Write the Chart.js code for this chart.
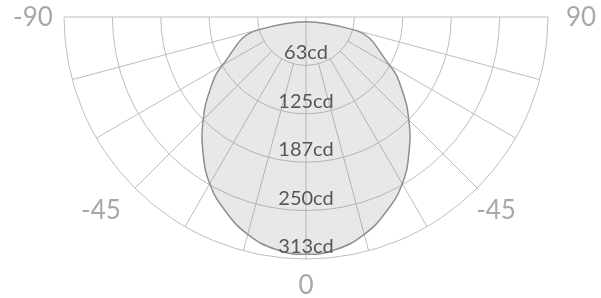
<!DOCTYPE html>
<html>
<head>
<meta charset="utf-8">
<script src="https://cdn.jsdelivr.net/npm/chart.js@4.4.1/dist/chart.umd.min.js"></script>
<style>
  html, body { margin: 0; padding: 0; background: #fff; }
  #wrap { width: 601px; height: 298px; }
</style>
</head>
<body>
<div id="wrap"><canvas id="polarChart" width="601" height="298"></canvas></div>
<script>
// luminous intensity (cd) per angle, 0 = straight down
const angles = [-75, -60, -52.5, -45, -37.5, -30, -22.5, -15, -7.5, 0,
                7.5, 15, 22.5, 30, 37.5, 45, 52.5, 60, 75];
const intensity = [63, 125, 157, 188, 219, 249, 272, 291, 303, 307,
                   303, 291, 272, 249, 219, 188, 157, 125, 63];

// grid rings and their labels
const ringValues = [62.6, 125.2, 187.8, 250.4, 313];
const ringLabels = ["63cd", "125cd", "187cd", "250cd", "313cd"];

// angle labels around the half circle
const angleTicks = [-90, -45, 0, 45, 90];
const angleLabels = ["-90", "-45", "0", "-45", "90"];
const spokeAngles = [-75, -60, -45, -30, -15, 15, 30, 45, 60, 75];

const maxCd = 313;
const rad = a => a * Math.PI / 180;

const points = angles.map((a, i) => ({
    x: intensity[i] * Math.sin(rad(a)),
    y: -intensity[i] * Math.cos(rad(a))
}));

const polarGrid = {
    id: "polarGrid",
    afterDatasetUpdate(chart, args) {
        // make the curve a closed loop
        args.meta.dataset._loop = true;
    },
    beforeDatasetsDraw(chart) {
        const ctx = chart.ctx;
        const xs = chart.scales.x, ys = chart.scales.y;
        const cx = xs.getPixelForValue(0), cy = ys.getPixelForValue(0);
        const px = v => xs.getPixelForValue(v) - cx;
        const R = px(maxCd), r1 = px(ringValues[0]);

        ctx.save();
        ctx.strokeStyle = "#bdbdbd";
        ctx.lineWidth = 1;
        ringValues.forEach(v => {
            ctx.beginPath();
            ctx.arc(cx, cy, px(v), 0, Math.PI);
            ctx.stroke();
        });
        ctx.beginPath();
        ctx.moveTo(cx - R, cy);
        ctx.lineTo(cx + R, cy);
        ctx.moveTo(cx, cy);
        ctx.lineTo(cx, cy + R);
        spokeAngles.forEach(a => {
            const s = Math.sin(rad(a)), c = Math.cos(rad(a));
            ctx.moveTo(cx + r1 * s, cy + r1 * c);
            ctx.lineTo(cx + R * s, cy + R * c);
        });
        ctx.stroke();
        ctx.restore();
    },
    afterDatasetsDraw(chart) {
        const ctx = chart.ctx;
        const xs = chart.scales.x, ys = chart.scales.y;
        const cx = xs.getPixelForValue(0), cy = ys.getPixelForValue(0);
        const px = v => xs.getPixelForValue(v) - cx;
        const R = px(maxCd);

        ctx.save();
        ctx.textAlign = "center";
        ctx.textBaseline = "alphabetic";
        ctx.fillStyle = "#575757";
        ctx.font = "20px Lato";
        ringValues.forEach((v, i) => {
            ctx.fillText(ringLabels[i], cx, cy + px(v) - 6);
        });

        // nudges so the labels sit where the original puts them
        const nudge = { "-90": [0, 0], "-45": [-12, 0], "0": [0, -5], "45": [-3, 0], "90": [2, 0] };
        ctx.fillStyle = "#a5a9ae";
        ctx.font = "26px Lato";
        ctx.textBaseline = "middle";
        angleTicks.forEach((a, i) => {
            const d = R + 31;
            const n = nudge[String(a)];
            ctx.fillText(angleLabels[i],
                cx + d * Math.sin(rad(a)) + n[0],
                cy + d * Math.cos(rad(a)) + n[1] + 1);
        });
        ctx.restore();
    }
};

new Chart(document.getElementById("polarChart"), {
    type: "scatter",
    data: {
        datasets: [{
            data: points,
            showLine: true,
            tension: 0.45,
            spanGaps: true,
            fill: "shape",
            backgroundColor: "rgba(140,140,140,0.2)",
            borderColor: "#8e8e8e",
            borderWidth: 1.5,
            pointRadius: 0,
            pointHoverRadius: 0
        }]
    },
    options: {
        responsive: false,
        animation: false,
        events: [],
        layout: { padding: { left: 64, right: 53, top: 17, bottom: 39 } },
        scales: {
            x: { display: false, min: -maxCd, max: maxCd },
            y: { display: false, min: -maxCd, max: 0 }
        },
        plugins: {
            legend: { display: false },
            tooltip: { enabled: false }
        }
    },
    plugins: [polarGrid]
});
</script>
</body>
</html>
